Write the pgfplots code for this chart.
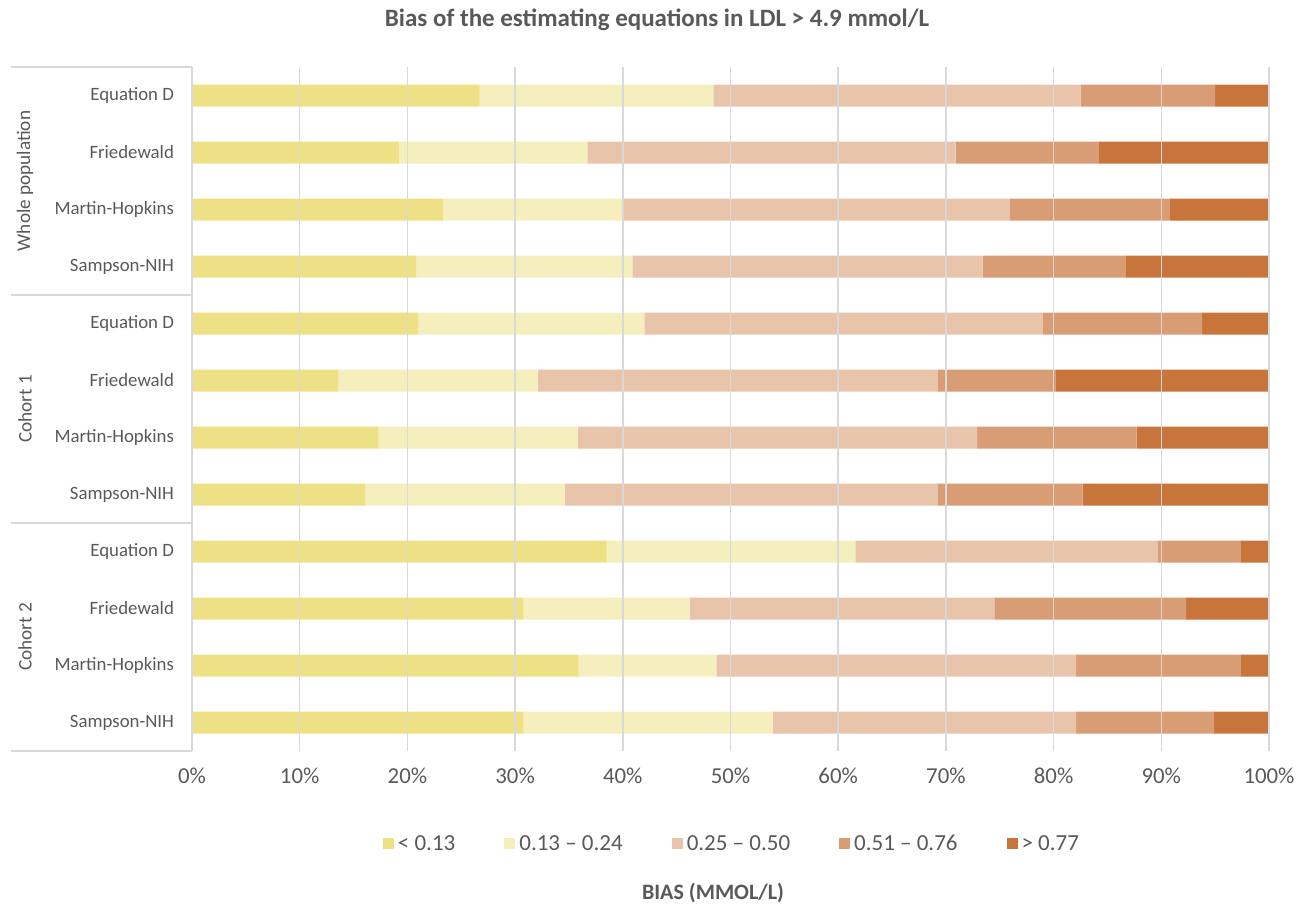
\documentclass[border=0pt]{standalone}
\usepackage{pgfplots}
\pgfplotsset{compat=1.18}
\usepackage{fontspec}
\setmainfont{Carlito}
\definecolor{txt}{HTML}{595959}
\definecolor{sep}{HTML}{D9D9D9}
\definecolor{cA}{HTML}{EDE085}
\definecolor{cB}{HTML}{F5EEBD}
\definecolor{cC}{HTML}{E8C4AA}
\definecolor{cD}{HTML}{D99D76}
\definecolor{cE}{HTML}{C8753B}
\begin{document}
\begin{tikzpicture}
\path[use as bounding box] (-96pt,-77.5pt) rectangle (561pt,375.5pt);
\begin{axis}[
  at={(0pt,0pt)}, anchor=south west,
  scale only axis, width=538.5pt, height=342pt,
  xbar stacked, bar width=11pt,
  xmin=0, xmax=100, ymin=-0.5, ymax=11.5, y dir=reverse,
  ytick={0,...,11},
  yticklabels={Equation D,Friedewald,Martin-Hopkins,Sampson-NIH,
               Equation D,Friedewald,Martin-Hopkins,Sampson-NIH,
               Equation D,Friedewald,Martin-Hopkins,Sampson-NIH},
  xtick={0,10,...,100},
  xticklabels={0\%,10\%,20\%,30\%,40\%,50\%,60\%,70\%,80\%,90\%,100\%},
  xmajorgrids, grid style={sep, line width=0.75pt},
  axis on top,
  axis x line*=bottom, axis y line*=left,
  x axis line style={draw=none},
  y axis line style={draw=sep, line width=0.75pt},
  major tick length=0pt,
  tick label style={color=txt},
  xticklabel style={font=\fontsize{11.4}{13}\selectfont, yshift=-5pt},
  yticklabel style={font=\fontsize{9.4}{11}\selectfont, xshift=-5.5pt},
  clip=false,
  legend columns=5,
  legend cell align=left,
  legend style={at={(axis description cs:0.5023,-0.1345)}, anchor=center,
    draw=none, fill=none, font=\fontsize{11.5}{13}\selectfont, text=txt,
    nodes={text height=8pt, text depth=1pt},
    /tikz/every even column/.append style={column sep=22.5pt}},
  legend image code/.code={\fill[#1,draw=none] (0pt,-2.75pt) rectangle (5.5pt,2.75pt);},
]
\addplot[fill=cA, draw=none] coordinates {(26.7,0) (19.2,1) (23.3,2) (20.8,3) (21.0,4) (13.6,5) (17.3,6) (16.1,7) (38.5,8) (30.8,9) (35.9,10) (30.8,11)};
\addplot[fill=cB, draw=none] coordinates {(21.7,0) (17.5,1) (16.7,2) (20.1,3) (21.0,4) (18.5,5) (18.5,6) (18.5,7) (23.1,8) (15.4,9) (12.8,10) (23.1,11)};
\addplot[fill=cC, draw=none] coordinates {(34.1,0) (34.2,1) (35.9,2) (32.5,3) (37.0,4) (37.1,5) (37.1,6) (34.6,7) (28.1,8) (28.3,9) (33.4,10) (28.2,11)};
\addplot[fill=cD, draw=none] coordinates {(12.5,0) (13.3,1) (14.9,2) (13.3,3) (14.8,4) (11.0,5) (14.8,6) (13.5,7) (7.7,8) (17.8,9) (15.3,10) (12.8,11)};
\addplot[fill=cE, draw=none] coordinates {(5.0,0) (15.8,1) (9.2,2) (13.3,3) (6.2,4) (19.8,5) (12.3,6) (17.3,7) (2.6,8) (7.7,9) (2.6,10) (5.1,11)};
\legend{< 0.13, 0.13 – 0.24, 0.25 – 0.50, 0.51 – 0.76, > 0.77}
\end{axis}
\draw[sep, line width=0.75pt] (-90.5pt,342pt) -- (0pt,342pt);
\draw[sep, line width=0.75pt] (-90.5pt,228pt) -- (0pt,228pt);
\draw[sep, line width=0.75pt] (-90.5pt,114pt) -- (0pt,114pt);
\draw[sep, line width=0.75pt] (-90.5pt,0pt) -- (0pt,0pt);
\node[rotate=90, font=\fontsize{9.6}{11}\selectfont, text=txt] at (-83.5pt,285pt) {Whole population};
\node[rotate=90, font=\fontsize{9.6}{11}\selectfont, text=txt] at (-83.5pt,171pt) {Cohort 1};
\node[rotate=90, font=\fontsize{9.6}{11}\selectfont, text=txt] at (-83.5pt,57pt) {Cohort 2};
\node[font=\bfseries\fontsize{12.5}{14}\selectfont, text=txt] at (232.5pt,365.5pt) {Bias of the estimating equations in LDL > 4.9 mmol/L};
\node[font=\bfseries\fontsize{11}{13}\selectfont, text=txt] at (260.5pt,-71pt) {BIAS (MMOL/L)};
\end{tikzpicture}
\end{document}
